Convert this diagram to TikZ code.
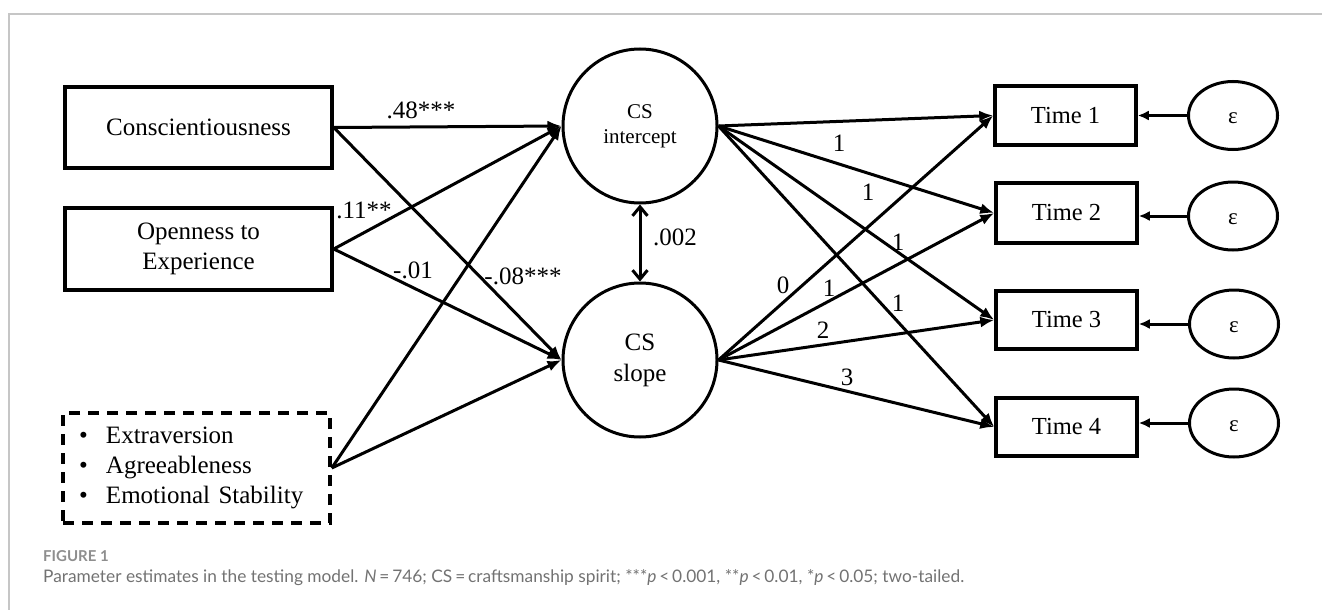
\documentclass[tikz,border=0pt]{standalone}
\usepackage{fontspec}
\setmainfont{Liberation Serif}
\newfontfamily\capfont{Lato}
\definecolor{figRule}{HTML}{C6C6C6}
\definecolor{figCap}{HTML}{727272}
\definecolor{figHead}{HTML}{8E8E8E}
\usetikzlibrary{positioning,arrows.meta,shapes.geometric}

\tikzset{
  obsbox/.style={draw, line width=3.5pt, minimum width=267pt, minimum height=81pt,
    align=center, font=\fontsize{25}{30}\selectfont},
  timebox/.style={draw, line width=3.5pt, minimum width=141pt, minimum height=59pt,
    font=\fontsize{24.5}{29}\selectfont},
  latent/.style={draw, circle, line width=3pt, minimum size=154pt, align=center},
  errnode/.style={draw, ellipse, line width=3pt, minimum width=89pt, minimum height=68pt,
    text height=16pt, text depth=0pt, font=\fontsize{23}{26}\selectfont},
  coef/.style={font=\fontsize{25}{30}\selectfont},
  path/.style={line width=3pt, -{Latex[length=14pt,width=11pt]}},
  errpath/.style={line width=3pt, -{Latex[length=11pt,width=10pt]}},
  covpath/.style={line width=3pt, {Straight Barb[length=9pt,width=15pt]}-{Straight Barb[length=9pt,width=15pt]}}
}

\begin{document}
\begin{tikzpicture}[x=1pt, y=-1pt]
  \useasboundingbox (0,0) rectangle (1322,610);
  \draw[figRule, line width=2pt] (1322,14) -- (9,14) -- (9,610);

  % exogenous predictors
  \node[obsbox] (consc) at (198.5,127.5) {Conscientiousness};
  \node[obsbox, minimum height=82pt] (open) at (198.5,249) {Openness to\\Experience};
  \node[obsbox, dash pattern=on 11pt off 8pt, minimum height=110pt, text width=235pt,
    inner xsep=16pt, align=left] (others) at (196.5,468)
    {\makebox[27pt][l]{\textbullet}Extraversion\\
     \makebox[27pt][l]{\textbullet}Agreeableness\\
     \makebox[27pt][l]{\textbullet}Emotional Stability};

  % growth factors
  \node[latent, font=\fontsize{21}{25}\selectfont] (icpt) at (640,126) {CS\\intercept};
  \node[latent, font=\fontsize{25}{31}\selectfont] (slope) at (640,360) {CS\\slope};

  % repeated measures
  \node[timebox] (t1) at (1065.5,115.5) {Time 1};
  \node[timebox, minimum height=60pt] (t2) at (1066.5,213) {Time 2};
  \node[timebox, minimum height=58pt] (t3) at (1066.5,320) {Time 3};
  \node[timebox, minimum height=58pt] (t4) at (1066.5,427) {Time 4};
  \node[errnode] (e1) at (1233,115.5) {ε};
  \node[errnode] (e2) at (1233,216) {ε};
  \node[errnode] (e3) at (1234,324) {ε};
  \node[errnode] (e4) at (1234,423) {ε};

  \draw[path] (consc.east) -- (icpt.west);
  \draw[path] (consc.east) -- (slope.west);
  \draw[path] (open.east) -- (icpt.west);
  \draw[path] (open.east) -- (slope.west);
  \draw[path] (others.east) -- (icpt.west);
  \draw[path] (others.east) -- (slope.west);
  \draw[covpath] (icpt.south) -- (slope.north);

  \draw[path] (icpt.east) -- (t1.west);
  \draw[path] (icpt.east) -- (t2.west);
  \draw[path] (icpt.east) -- (t3.west);
  \draw[path] (icpt.east) -- (t4.west);
  \draw[path] (slope.east) -- (t1.west);
  \draw[path] (slope.east) -- (t2.west);
  \draw[path] (slope.east) -- (t3.west);
  \draw[path] (slope.east) -- (t4.west);

  \draw[errpath] (e1.west) -- (t1.east);
  \draw[errpath] (e2.west) -- (e2.west -| t2.east);
  \draw[errpath] (e3.west) -- (e3.west -| t3.east);
  \draw[errpath] (e4.west) -- (e4.west -| t4.east);

  % estimates
  \node[coef] (b48) at (421,110) {.48***};
  \node[coef] (b11) at (364,210) {.11**};
  \node[coef] (b01) at (413,270) {-.01};
  \node[coef] (b08) at (523,276) {-.08***};
  \node[coef] (r002) at (675,237) {.002};
  \node[coef] (li1) at (839,143) {1};
  \node[coef] (li2) at (868,192) {1};
  \node[coef] (li3) at (898,242) {1};
  \node[coef] (li4) at (898,303) {1};
  \node[coef] (ls1) at (783,285) {0};
  \node[coef] (ls2) at (829,288) {1};
  \node[coef] (ls3) at (823,330) {2};
  \node[coef] (ls4) at (847,377) {3};

  % caption
  \node[anchor=west, inner sep=0pt, text=figHead, font=\capfont\bfseries\fontsize{15}{18}\selectfont]
    (fighead) at (43,556) {FIGURE 1};
  \node[anchor=west, inner sep=0pt, text=figCap, font=\capfont\fontsize{17.3}{20}\selectfont]
    (figcap) at (43,578) {Parameter estimates in the testing model. \textit{N}\,=\,746; CS\,=\,craftsmanship spirit; ***\textit{p}\,<\,0.001, **\textit{p}\,<\,0.01, *\textit{p}\,<\,0.05; two-tailed.};
\end{tikzpicture}
\end{document}
